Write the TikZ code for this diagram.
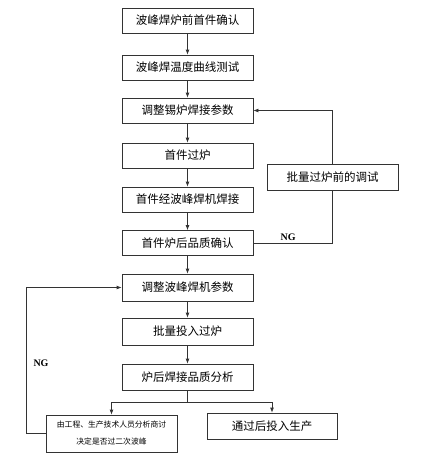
\documentclass[tikz,border=0pt]{standalone}
\usepackage{fontspec}
\setmainfont{Noto Sans CJK SC}
\newfontfamily\latfont{Liberation Serif}
\usetikzlibrary{arrows.meta}
\begin{document}
\begin{tikzpicture}[x=1pt,y=-1pt,
  box/.style={draw=black!80,line width=0.8pt,minimum width=131pt,minimum height=25pt,inner sep=0pt,font=\fontsize{11.5}{13}\selectfont},
  link/.style={draw=black!80,line width=0.8pt},
  arr/.style={link,-{Latex[length=5pt,width=4pt]}},
  nglabel/.style={font=\latfont\fontsize{10}{11}\selectfont\bfseries}]
\useasboundingbox (0,0) rectangle (424,458);
\node[box] (b1) at (187.5,20.5) {波峰焊炉前首件确认};
\node[box] (b2) at (187.5,67.5) {波峰焊温度曲线测试};
\node[box] (b3) at (187.5,110.5) {调整锡炉焊接参数};
\node[box] (b4) at (187.5,155.5) {首件过炉};
\node[box] (b5) at (187.5,199.5) {首件经波峰焊机焊接};
\node[box] (b6) at (187.5,243) {首件炉后品质确认};
\node[box,minimum height=27pt] (b7) at (187.5,287.5) {调整波峰焊机参数};
\node[box,minimum height=27pt] (b8) at (187.5,331.5) {批量投入过炉};
\node[box,minimum height=26pt] (b9) at (187.5,377) {炉后焊接品质分析};
\node[box,minimum height=37pt,align=center,font=\fontsize{7.8}{17}\selectfont] (b10) at (111.5,433.5) {由工程、生产技术人员分析商讨\\决定是否过二次波峰};
\node[box,minimum width=130pt,minimum height=26pt] (b11) at (272,426) {通过后投入生产};
\node[box,minimum height=26pt] (rb) at (332.5,177) {批量过炉前的调试};
\coordinate (split) at (187.5,402);
\coordinate (lft) at (26,433.5);
\draw[arr] (b1) -- (b2);
\draw[arr] (b2) -- (b3);
\draw[arr] (b3) -- (b4);
\draw[arr] (b4) -- (b5);
\draw[arr] (b5) -- (b6);
\draw[arr] (b6) -- (b7);
\draw[arr] (b7) -- (b8);
\draw[arr] (b8) -- (b9);
\draw[link] (b9) -- (split);
\draw[arr] (split) -| (b10.north);
\draw[arr] (split) -| (b11.north);
\draw[link] (b6.east) -| node[pos=0.22,above=-1pt,nglabel] (ng1) {NG} (rb.south);
\draw[arr] (rb.north) |- (b3.east);
\draw[arr] (b10.west) -- (lft) |- (b7.west);
\node[nglabel] (ng2) at (41,363) {NG};
\end{tikzpicture}
\end{document}
